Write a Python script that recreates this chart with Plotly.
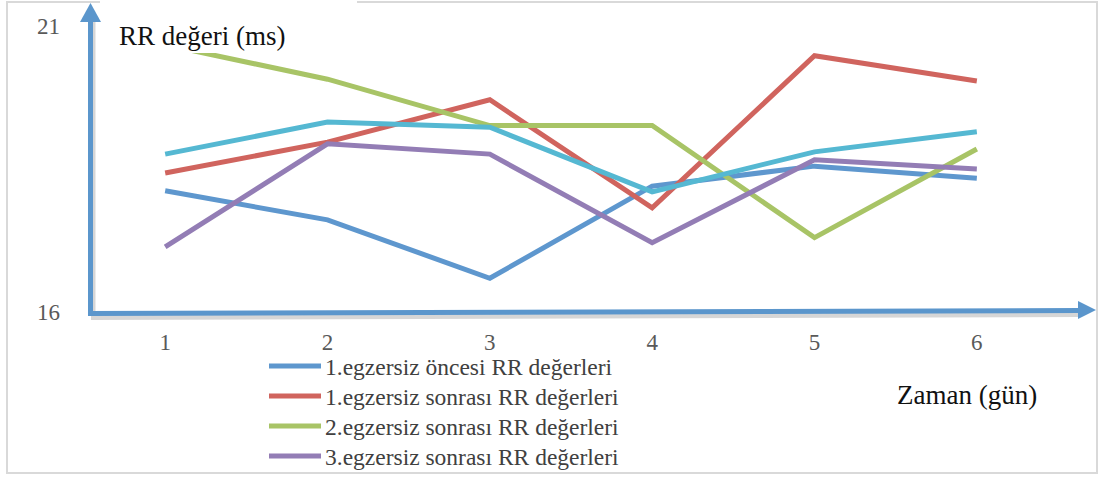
import plotly.graph_objects as go

# Days and RR values (ms) per measurement series
days = [1, 2, 3, 4, 5, 6]
tick_labels = ["1", "2", "3", "4", "5", "6"]

ex1_before = [18.12, 17.61, 16.59, 18.20, 18.55, 18.34]
ex1_after = [18.43, 18.97, 19.71, 17.82, 20.48, 20.04]
ex2_after = [20.67, 20.07, 19.26, 19.26, 17.30, 18.85]
ex3_after = [17.14, 18.94, 18.76, 17.21, 18.66, 18.50]
ex4_after = [18.76, 19.32, 19.23, 18.10, 18.80, 19.15]

series_names = [
    "1.egzersiz öncesi RR değerleri",
    "1.egzersiz sonrası RR değerleri",
    "2.egzersiz sonrası RR değerleri",
    "3.egzersiz sonrası RR değerleri",
    "4.egzersiz sonrası RR değerleri",
]
series_values = [ex1_before, ex1_after, ex2_after, ex3_after, ex4_after]
series_colors = ["#5E97CE", "#D0645E", "#A8C466", "#937DB5", "#55B8D2"]
legend_count = 4  # the last series falls below the visible legend rows

y_ticks = [16, 21]
y_range = [16, 21]
x_range = [0.5, 6.5]

# Figure geometry (pixels)
FIG_W, FIG_H = 1101, 477
L, R, T, B = 84, 1058, 26, 312
W, H = R - L, B - T


def px(x):
    return (x - L) / W


def py(y):
    return (B - y) / H


SERIF = "Liberation Serif"
AXIS_BLUE = "#5B96CC"

fig = go.Figure()
for name, vals, col in zip(series_names, series_values, series_colors):
    fig.add_trace(go.Scatter(
        x=days, y=vals, name=name, mode="lines",
        line=dict(color=col, width=5),
        showlegend=False,
    ))

shapes = []
annotations = []

# outer chart border
shapes.append(dict(type="rect", xref="paper", yref="paper",
                   x0=px(7), x1=px(1097), y0=py(473), y1=py(2),
                   line=dict(color="#D9D9D9", width=2), layer="below"))

# white box behind the y-axis title
shapes.append(dict(type="rect", xref="paper", yref="paper",
                   x0=px(100), x1=px(357), y0=py(53), y1=py(0),
                   fillcolor="white", line=dict(width=0), layer="above"))

# soft shadows of the axis arrows
shade = "rgba(0,0,0,0.16)"
shapes.append(dict(type="line", xref="paper", yref="paper",
                   x0=px(91), x1=px(1080), y0=py(317), y1=py(314),
                   line=dict(color=shade, width=6), layer="above"))
shapes.append(dict(type="line", xref="paper", yref="paper",
                   x0=px(93), x1=px(93), y0=py(314), y1=py(22),
                   line=dict(color=shade, width=5), layer="above"))

# y-axis arrow
shapes.append(dict(type="line", xref="paper", yref="paper",
                   x0=px(90.5), x1=px(90.5), y0=py(312), y1=py(20),
                   line=dict(color=AXIS_BLUE, width=5), layer="above"))
shapes.append(dict(type="path", xref="paper", yref="paper",
                   path="M {} {} L {} {} L {} {} Z".format(
                       px(80), py(22), px(90.5), py(3), px(101), py(22)),
                   fillcolor=AXIS_BLUE, line=dict(width=0), layer="above"))

# x-axis arrow
shapes.append(dict(type="line", xref="paper", yref="paper",
                   x0=px(88), x1=px(1080), y0=py(313.5), y1=py(310.5),
                   line=dict(color=AXIS_BLUE, width=5), layer="above"))
shapes.append(dict(type="path", xref="paper", yref="paper",
                   path="M {} {} L {} {} L {} {} Z".format(
                       px(1078), py(301), px(1096), py(310), px(1078), py(319)),
                   fillcolor=AXIS_BLUE, line=dict(width=0), layer="above"))

# axis titles
annotations.append(dict(text="RR değeri (ms)", xref="paper", yref="paper",
                        x=px(117), y=py(36), xanchor="left", yanchor="middle",
                        showarrow=False, font=dict(family=SERIF, size=27, color="#111111")))
annotations.append(dict(text="Zaman (gün)", xref="paper", yref="paper",
                        x=px(895), y=py(395), xanchor="left", yanchor="middle",
                        showarrow=False, font=dict(family=SERIF, size=27, color="#111111")))

# legend rows
for i in range(legend_count):
    yc = 366 + 30 * i
    shapes.append(dict(type="line", xref="paper", yref="paper",
                       x0=px(269), x1=px(321), y0=py(yc), y1=py(yc),
                       line=dict(color=series_colors[i], width=5), layer="above"))
    annotations.append(dict(text=series_names[i], xref="paper", yref="paper",
                            x=px(323), y=py(yc + 1), xanchor="left", yanchor="middle",
                            showarrow=False,
                            font=dict(family=SERIF, size=23.5, color="#404040")))

fig.update_layout(
    width=FIG_W, height=FIG_H,
    margin=dict(l=L, r=FIG_W - R, t=T, b=FIG_H - B),
    paper_bgcolor="white", plot_bgcolor="white",
    showlegend=False,
    shapes=shapes, annotations=annotations,
    xaxis=dict(range=x_range, tickvals=days, ticktext=tick_labels,
               showgrid=False, zeroline=False, showline=False, ticks="",
               ticklabelstandoff=14,
               tickfont=dict(family=SERIF, size=23, color="#595959")),
    yaxis=dict(range=y_range, tickvals=y_ticks, ticktext=[str(v) for v in y_ticks],
               showgrid=True, gridcolor="#D9D9D9", gridwidth=2,
               zeroline=False, showline=False, ticks="",
               ticklabelstandoff=23,
               tickfont=dict(family=SERIF, size=23, color="#595959")),
)

fig.write_html("out.html")
